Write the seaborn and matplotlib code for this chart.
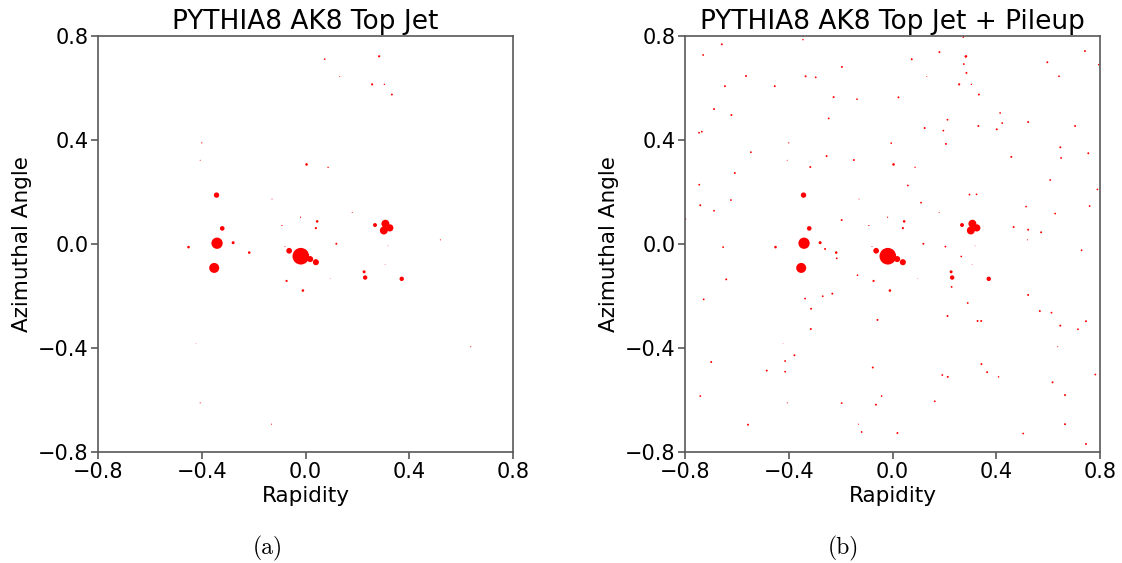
import numpy as np
import pandas as pd
import seaborn as sns
import matplotlib
matplotlib.use("Agg")
import matplotlib.pyplot as plt

# jet constituents: rapidity, azimuth, pT (GeV)
jet_rap = [0.074, 0.284, 0.132, 0.257, 0.304, 0.333, -0.400, -0.406, 0.004, 0.087,
           -0.343, -0.129, 0.180, -0.019, 0.045, -0.091, 0.040, -0.321, 0.268,
           0.308, 0.302, 0.325, 0.520, -0.341, -0.451, -0.279, -0.217, -0.352,
           -0.079, -0.063, -0.018, 0.018, 0.040, 0.119, 0.318, 0.307, 0.226,
           0.230, 0.371, 0.096, -0.073, -0.010, -0.422, 0.637, -0.406, -0.131]
jet_phi = [0.711, 0.722, 0.644, 0.614, 0.614, 0.575, 0.389, 0.322, 0.306, 0.295,
           0.188, 0.173, 0.121, 0.103, 0.087, 0.071, 0.061, 0.060, 0.073,
           0.078, 0.052, 0.062, 0.016, 0.003, -0.012, 0.005, -0.033, -0.092,
           -0.010, -0.026, -0.047, -0.058, -0.070, 0.001, -0.007, -0.078, -0.107,
           -0.129, -0.134, -0.133, -0.142, -0.179, -0.382, -0.395, -0.611, -0.693]
jet_pt = [1.4, 2.5, 0.5, 2.5, 1.0, 2.0, 0.8, 0.5, 3.5, 1.0,
          15.0, 0.5, 0.5, 0.8, 3.5, 0.8, 2.5, 11.0, 8.0,
          33.0, 33.0, 27.0, 0.6, 66.0, 3.5, 4.7, 3.5, 52.0,
          0.5, 17.0, 144.0, 19.0, 19.0, 2.0, 0.3, 0.3, 4.7,
          10.0, 10.0, 0.2, 2.5, 3.5, 0.2, 0.6, 0.6, 0.6]

# pileup particles
pu_rap = [-0.658, -0.345, 0.273, -0.730, 0.181, 0.282, 0.074, 0.742, 0.795, 0.597,
          0.275, -0.195, -0.565, -0.335, -0.296, 0.285, 0.642, -0.646, -0.454, -0.227,
          -0.137, 0.023, -0.688, -0.621, 0.415, -0.246, 0.212, 0.423, 0.523, 0.124,
          0.196, 0.331, 0.402, 0.704, -0.746, -0.735, -0.005, 0.206, 0.647, -0.546,
          0.755, -0.254, -0.149, 0.458, 0.650, -0.317, -0.608, 0.059, 0.608, -0.745,
          0.790, 0.297, 0.324, -0.623, -0.741, 0.760, -0.688, 0.110, 0.515, 0.627,
          -0.798, -0.196, 0.467, 0.523, 0.573, -0.653, -0.260, -0.215, 0.204, 0.729,
          0.265, -0.641, -0.135, -0.728, -0.337, -0.314, -0.269, -0.232, 0.228, 0.523,
          0.290, -0.058, 0.212, 0.328, 0.342, 0.568, 0.613, 0.647, 0.715, 0.746,
          -0.315, -0.378, -0.414, -0.699, -0.485, -0.414, -0.076, 0.343, 0.365, 0.192,
          0.213, 0.409, 0.617, 0.782, -0.741, -0.196, -0.042, -0.064, 0.163, 0.665,
          -0.557, -0.119, 0.019, 0.504, 0.665, 0.746]
pu_phi = [0.768, 0.786, 0.796, 0.727, 0.738, 0.721, 0.710, 0.742, 0.690, 0.699,
          0.692, 0.681, 0.646, 0.645, 0.641, 0.658, 0.645, 0.607, 0.607, 0.565,
          0.557, 0.564, 0.519, 0.496, 0.504, 0.483, 0.478, 0.465, 0.469, 0.446,
          0.436, 0.454, 0.441, 0.454, 0.428, 0.432, 0.388, 0.385, 0.372, 0.353,
          0.349, 0.338, 0.323, 0.335, 0.331, 0.296, 0.273, 0.225, 0.246, 0.228,
          0.210, 0.190, 0.191, 0.169, 0.149, 0.146, 0.128, 0.159, 0.144, 0.117,
          0.096, 0.092, 0.065, 0.055, 0.045, -0.012, -0.019, -0.055, -0.010, -0.024,
          -0.048, -0.136, -0.120, -0.213, -0.210, -0.249, -0.201, -0.191, -0.165, -0.196,
          -0.227, -0.292, -0.277, -0.296, -0.296, -0.258, -0.264, -0.314, -0.328, -0.297,
          -0.327, -0.428, -0.450, -0.454, -0.487, -0.491, -0.475, -0.462, -0.493, -0.504,
          -0.511, -0.511, -0.532, -0.502, -0.585, -0.612, -0.585, -0.618, -0.605, -0.581,
          -0.695, -0.723, -0.727, -0.729, -0.693, -0.769]
pu_pt = [2.0, 1.2, 1.5, 1.7, 2.0, 2.5, 1.5, 2.0, 1.2, 2.0,
         1.7, 2.0, 2.0, 2.0, 1.7, 2.0, 1.7, 2.0, 2.0, 2.0,
         1.5, 2.0, 2.0, 2.0, 1.5, 1.7, 1.7, 1.7, 2.0, 2.0,
         1.7, 2.0, 2.0, 2.0, 1.7, 1.7, 1.5, 2.0, 2.0, 1.7,
         2.0, 2.0, 2.0, 2.0, 1.7, 2.0, 2.0, 1.7, 1.7, 1.7,
         1.5, 1.7, 1.5, 1.7, 2.0, 1.7, 1.7, 1.7, 1.5, 1.7,
         1.2, 2.0, 2.0, 2.0, 2.0, 1.7, 2.0, 1.7, 1.7, 1.7,
         1.5, 2.0, 1.5, 1.7, 1.7, 2.0, 1.7, 2.0, 1.7, 2.0,
         1.7, 2.0, 2.0, 2.0, 2.0, 2.0, 1.7, 2.0, 1.7, 2.0,
         2.0, 2.0, 1.7, 2.0, 2.0, 1.7, 2.0, 2.0, 2.0, 1.7,
         2.0, 1.2, 2.0, 1.7, 1.7, 1.7, 1.5, 2.0, 1.7, 2.0,
         2.0, 1.7, 2.0, 1.7, 2.0, 2.0]

titles = ["PYTHIA8 AK8 Top Jet", "PYTHIA8 AK8 Top Jet + Pileup"]
captions = ["(a)", "(b)"]
ticks = [-0.8, -0.4, 0.0, 0.4, 0.8]

jet = pd.DataFrame({"rap": jet_rap, "phi": jet_phi, "pt": jet_pt})
pu = pd.DataFrame({"rap": pu_rap, "phi": pu_phi, "pt": pu_pt})
frames = [jet, pd.concat([jet, pu], ignore_index=True)]

sns.set_style("ticks", {"text.color": "black", "axes.labelcolor": "black",
                        "xtick.color": "0.35", "ytick.color": "0.35"})
plt.rcParams["font.family"] = ["DejaVu Sans"]

fig = plt.figure(figsize=(11.22, 5.63), dpi=100)
axes = [fig.add_axes([98 / 1122, 1 - 452 / 563, 415 / 1122, 416 / 563]),
        fig.add_axes([685 / 1122, 1 - 452 / 563, 415 / 1122, 416 / 563])]
pt_max = max(jet_pt)

for ax, df, title in zip(axes, frames, titles):
    sns.scatterplot(data=df, x="rap", y="phi", size="pt", sizes=(0, pt_max),
                    size_norm=(0, pt_max), color="red", linewidth=0,
                    legend=False, ax=ax)
    ax.set_xlim(-0.8, 0.8)
    ax.set_ylim(-0.8, 0.8)
    ax.set_xticks(ticks)
    ax.set_yticks(ticks)
    ax.tick_params(labelsize=15, length=5, width=1.2, color="0.35",
                   labelcolor="black", pad=2)
    for sp in ax.spines.values():
        sp.set_color("0.35")
        sp.set_linewidth(1.2)
    ax.set_title(title, fontsize=19, pad=5, color="black")
    ax.set_xlabel("Rapidity", fontsize=15.5, labelpad=3)
    ax.set_ylabel("Azimuthal Angle", fontsize=15.5, labelpad=4)

for xc, cap in zip([268 / 1122, 843 / 1122], captions):
    fig.text(xc, 1 - 548 / 563, cap, ha="center", va="center",
             fontsize=17, family="cmr10", color="black")

fig.savefig("out.png", dpi=100, facecolor="white")
